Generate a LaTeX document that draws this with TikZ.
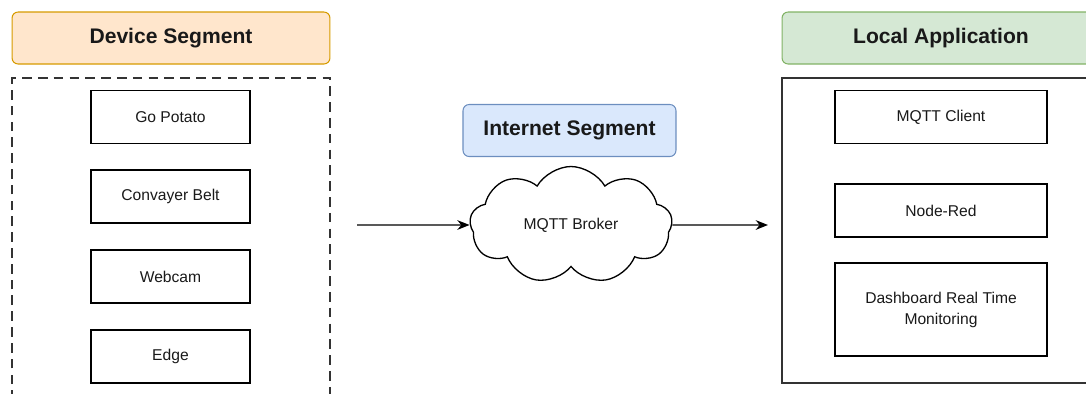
\documentclass[tikz,border=0pt]{standalone}
\usepackage{fontspec}
\setmainfont{Liberation Sans}
\usetikzlibrary{shapes.symbols,arrows.meta}

\definecolor{devfill}{HTML}{FFE6CC}
\definecolor{devline}{HTML}{D79B00}
\definecolor{netfill}{HTML}{DAE8FC}
\definecolor{netline}{HTML}{6C8EBF}
\definecolor{appfill}{HTML}{D5E8D4}
\definecolor{appline}{HTML}{82B366}

\begin{document}
\begin{tikzpicture}[x=0.02cm, y=-0.02cm,
	every node/.style={font=\fontsize{8.9}{12}\selectfont, text=black!90},
	header/.style={draw, rounded corners=3.5pt, line width=0.6pt, minimum height=1.04cm, font=\fontsize{12}{14}\selectfont\bfseries},
	item/.style={draw, line width=0.75pt, minimum width=3.18cm, minimum height=1.06cm, align=center},
	flow/.style={-{Stealth[length=7pt,width=5.5pt]}, line width=0.8pt}]
	\clip (0,0) rectangle (1086,393);
	% device segment
	\node[header, fill=devfill, draw=devline, minimum width=6.36cm] (devhead) at (171,38) {Device Segment};
	\draw[line width=0.75pt, black!80, dash pattern=on 5.5pt off 3.5pt] (12,400) -- (12,78) -- (330,78) -- (330,400);
	\node[item] (potato) at (170.5,117) {Go Potato};
	\node[item] (belt) at (170.5,196.5) {Convayer Belt};
	\node[item] (webcam) at (170.5,276.5) {Webcam};
	\node[item] (edge) at (170.5,356.5) {Edge};
	% internet segment
	\node[header, fill=netfill, draw=netline, minimum width=4.26cm] (nethead) at (569.5,130.5) {Internet Segment};
	\node[cloud, draw, line width=0.75pt, cloud puffs=9, cloud puff arc=120, aspect=1.75, minimum width=4.05cm, minimum height=2.34cm, inner sep=0pt] (broker) at (571,225) {MQTT Broker};
	% local application
	\node[header, fill=appfill, draw=appline, minimum width=6.36cm] (apphead) at (941,38) {Local Application};
	\draw[line width=0.75pt, black!80] (782,78) rectangle (1100,383);
	\node[item, minimum width=4.24cm] (client) at (941,117) {MQTT Client};
	\node[item, minimum width=4.24cm] (nodered) at (941,210.5) {Node-Red};
	\node[item, minimum width=4.24cm, minimum height=1.86cm] (dash) at (941,309.5) {Dashboard Real Time\\Monitoring};
	% flows
	\coordinate (devout) at (357,225);
	\coordinate (appin) at (768,225);
	\draw[flow] (devout) -- (broker.west);
	\draw[flow] (broker.east) -- (appin);
\end{tikzpicture}
\end{document}
